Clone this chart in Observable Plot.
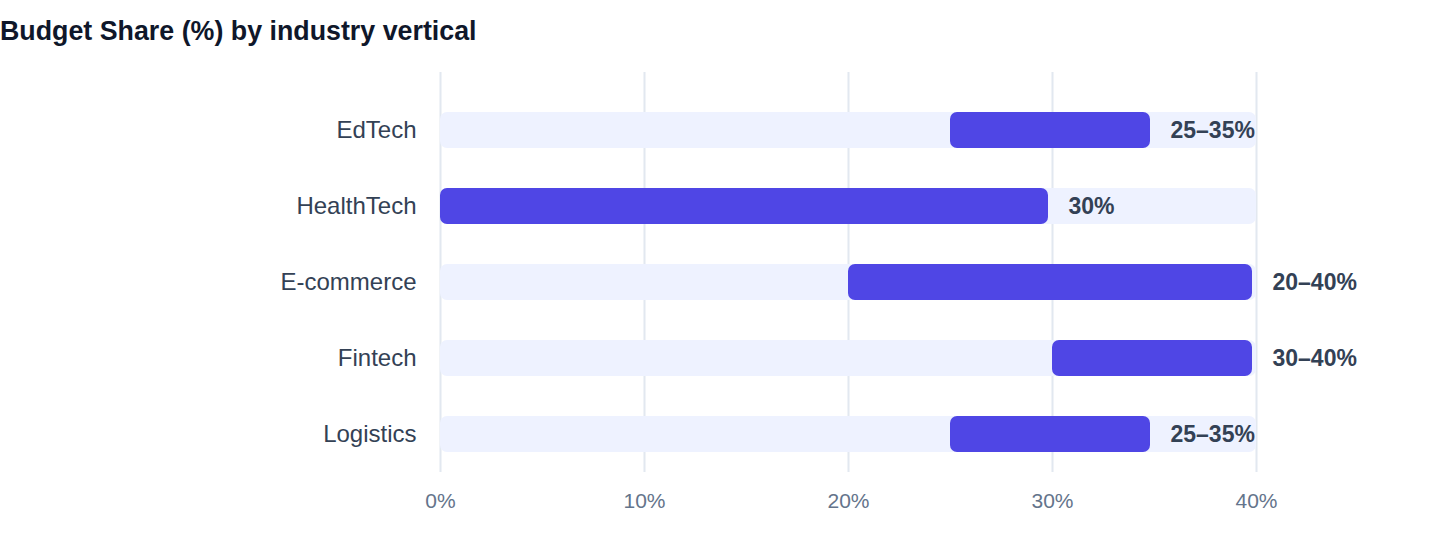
<!DOCTYPE html>
<html>
<head>
<meta charset="utf-8">
<script src="https://cdn.jsdelivr.net/npm/d3@7"></script>
<script src="https://cdn.jsdelivr.net/npm/@observablehq/plot@0.6"></script>
<style>
  html, body { margin: 0; padding: 0; background: #fff; }
  body { width: 1440px; height: 560px; overflow: hidden; font-family: "Liberation Sans", Arial, Helvetica, sans-serif; }
  h2 { margin: 0; height: 60px; line-height: 62px; font-size: 26.8px; font-weight: 700; color: #0f172a; padding-left: 0; }
  #chart svg { display: block; }
</style>
</head>
<body>
<h2>Budget Share (%) by industry vertical</h2>
<div id="chart"></div>
<script>
const categories = ["EdTech", "HealthTech", "E-commerce", "Fintech", "Logistics"];
const lows = [25, 0, 20, 30, 25];
const highs = [35, 30, 40, 40, 35];
const valueLabels = ["25–35%", "30%", "20–40%", "30–40%", "25–35%"];
const xTicks = [0, 10, 20, 30, 40];
const trackMax = 40;

const rows = categories.map((c, i) => ({
  category: c, low: lows[i], high: highs[i], label: valueLabels[i], track: trackMax
}));

const chart = Plot.plot({
  width: 1440,
  height: 500,
  marginTop: 12,
  marginBottom: 88,
  marginLeft: 440,
  marginRight: 184,
  style: { fontFamily: "'Liberation Sans', Arial, Helvetica, sans-serif", background: "#fff" },
  x: { domain: [0, trackMax], label: null },
  y: { domain: categories, paddingInner: 0.5263, paddingOuter: 0.3947, align: 0.6667, round: false, label: null },
  marks: [
    Plot.gridX(xTicks, { stroke: "#e2e8f0", strokeOpacity: 1, strokeWidth: 2 }),
    Plot.barX(rows, { y: "category", x1: 0, x2: "track", fill: "#eef2ff", rx: 7 }),
    Plot.barX(rows, { y: "category", x1: "low", x2: "high", fill: "#4f46e5", rx: 7, insetRight: 4 }),
    Plot.text(rows, { y: "category", x: "high", text: "label", textAnchor: "start", dx: 16, fontSize: 23, fontWeight: 700, fill: "#334155" }),
    Plot.axisY({ tickSize: 0, tickPadding: 24, fontSize: 24, color: "#334155", label: null }),
    Plot.axisX({ ticks: xTicks, tickFormat: d => d + "%", tickSize: 0, tickPadding: 21, fontSize: 21, color: "#64748b", label: null })
  ]
});
document.getElementById("chart").appendChild(chart);
</script>
</body>
</html>
